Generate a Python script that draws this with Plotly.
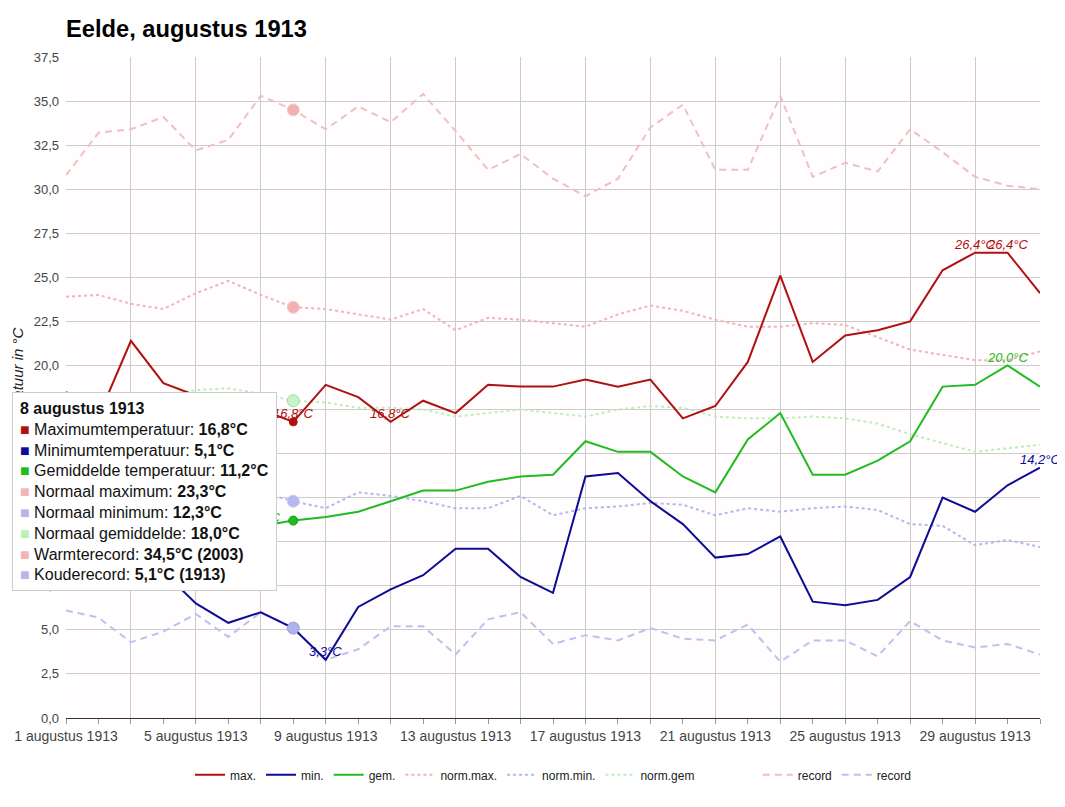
import plotly.graph_objects as go

# ---- data (Eelde, augustus 1913) ----
days = list(range(1, 32))
t_max = [18.5, 17.1, 21.4, 19.0, 18.3, 17.9, 17.5, 16.8, 18.9, 18.2, 16.8, 18.0, 17.3, 18.9, 18.8, 18.8,
         19.2, 18.8, 19.2, 17.0, 17.7, 20.2, 25.1, 20.2, 21.7, 22.0, 22.5, 25.4, 26.4, 26.4, 24.1]
t_min = [10.5, 11.6, 9.9, 8.3, 6.5, 5.4, 6.0, 5.1, 3.3, 6.3, 7.3, 8.1, 9.6, 9.6, 8.0, 7.1,
         13.7, 13.9, 12.3, 11.0, 9.1, 9.3, 10.3, 6.6, 6.4, 6.7, 8.0, 12.5, 11.7, 13.2, 14.2]
t_gem = [14.3, 14.0, 15.6, 13.7, 12.4, 11.4, 10.9, 11.2, 11.4, 11.7, 12.3, 12.9, 12.9, 13.4, 13.7, 13.8,
         15.7, 15.1, 15.1, 13.7, 12.8, 15.8, 17.3, 13.8, 13.8, 14.6, 15.7, 18.8, 18.9, 20.0, 18.8]
norm_max = [23.9, 24.0, 23.5, 23.2, 24.1, 24.8, 24.0, 23.3, 23.2, 22.9, 22.6, 23.2, 22.0, 22.7, 22.6, 22.4,
            22.2, 22.9, 23.4, 23.1, 22.6, 22.2, 22.2, 22.4, 22.3, 21.6, 20.9, 20.6, 20.3, 20.3, 20.8]
norm_min = [12.9, 13.0, 12.6, 12.7, 12.4, 12.5, 12.8, 12.3, 11.9, 12.8, 12.6, 12.3, 11.9, 11.9, 12.6, 11.5,
            11.9, 12.0, 12.2, 12.1, 11.5, 11.9, 11.7, 11.9, 12.0, 11.8, 11.0, 10.9, 9.8, 10.1, 9.7]
norm_gem = [18.3, 18.4, 18.2, 18.3, 18.6, 18.7, 18.4, 18.0, 17.9, 17.6, 17.6, 17.5, 17.1, 17.3, 17.5, 17.3,
            17.1, 17.5, 17.7, 17.6, 17.1, 17.0, 17.0, 17.1, 17.0, 16.7, 16.1, 15.6, 15.1, 15.3, 15.5]
rec_max = [30.8, 33.2, 33.4, 34.1, 32.2, 32.8, 35.3, 34.5, 33.4, 34.7, 33.8, 35.4, 33.3, 31.1, 32.0, 30.6,
           29.6, 30.6, 33.5, 34.8, 31.1, 31.1, 35.3, 30.7, 31.5, 31.0, 33.4, 32.1, 30.7, 30.2, 30.0]
rec_min = [6.1, 5.7, 4.3, 4.9, 5.9, 4.6, 6.0, 5.1, 3.3, 3.9, 5.2, 5.2, 3.6, 5.6, 6.0, 4.2,
           4.7, 4.4, 5.1, 4.5, 4.4, 5.3, 3.2, 4.4, 4.4, 3.5, 5.5, 4.4, 4.0, 4.2, 3.6]
tick_labels = [f"{d} augustus 1913" for d in days]

HOVER_DAY = 8
REC_MAX_YEAR = "2003"
REC_MIN_YEAR = "1913"

C_MAX, C_MIN, C_GEM = "#b01010", "#0c0c96", "#22bb22"
C_NMAX, C_NMIN, C_NGEM = "#f2b4b4", "#b6b6ee", "#bdeebd"
C_RMAX, C_RMIN = "#f0c0c0", "#c0c0ee"
FONT = "Arial, 'Liberation Sans', sans-serif"

# page body has an 8px margin -> figure is shifted, compensate here
W, H = 1057, 799
ML, MT, MR, MB = 58, 49, 25, 89


def fmt(v):
    return f"{v:.1f}°C".replace(".", ",")


fig = go.Figure()

series = [
    ("max.", t_max, C_MAX, "solid", 1),
    ("min.", t_min, C_MIN, "solid", 2),
    ("gem.", t_gem, C_GEM, "solid", 3),
    ("norm.max.", norm_max, C_NMAX, "dot", 4),
    ("norm.min.", norm_min, C_NMIN, "dot", 5),
    ("norm.gem", norm_gem, C_NGEM, "dot", 6),
    ("record", rec_max, C_RMAX, "7px,5px", 8),
    ("record", rec_min, C_RMIN, "7px,5px", 9),
]
# normals/records first so the measured lines sit on top
for name, vals, col, dash, rank in series[3:] + series[:3]:
    fig.add_trace(go.Scatter(
        x=days, y=vals, name=name, mode="lines",
        line=dict(color=col, width=2, dash=dash),
        legendrank=rank, hoverinfo="skip",
    ))

# empty legend slot (gap before the record entries)
fig.add_trace(go.Scatter(
    x=[None], y=[None], mode="lines", name="\u00a0" * 4, legendrank=7,
    line=dict(color="rgba(0,0,0,0)", width=2), hoverinfo="skip",
))

# hover markers on the selected day
i = HOVER_DAY - 1
for vals, col, size, lc in [
    (rec_max, "#f2b0b0", 12, "#f6caca"),
    (norm_max, "#f2b0b0", 12, "#f6caca"),
    (norm_gem, "#c8f2c8", 12, "#a8dca8"),
    (norm_min, "#b8b8f0", 12, "#cacaf4"),
    (rec_min, "#b0b2ea", 12, "#9a9cd8"),
    (t_max, C_MAX, 8, C_MAX),
    (t_gem, C_GEM, 9, "#139913"),
]:
    fig.add_trace(go.Scatter(
        x=[days[i]], y=[vals[i]], mode="markers", showlegend=False, hoverinfo="skip",
        marker=dict(color=col, size=size, line=dict(color=lc, width=1)),
    ))

# min / max labels
annotations = []
for vals, col in [(t_max, C_MAX), (t_min, C_MIN), (t_gem, C_GEM)]:
    for target in (max(vals), min(vals)):
        for d, v in zip(days, vals):
            if v == target:
                annotations.append(dict(
                    x=d, y=v, xref="x", yref="y", text=fmt(v), showarrow=False,
                    yshift=8, font=dict(family=FONT, size=13, color=col, style="italic"),
                ))

# y axis title
annotations.append(dict(
    x=-0.0498, y=0.5, xref="paper", yref="paper", xanchor="center", yanchor="middle",
    text="Temperatuur in °C", textangle=-90, showarrow=False,
    font=dict(family=FONT, size=15, color="#222", style="italic"),
))

# tooltip for the selected day
rows = [
    (C_MAX, "Maximumtemperatuur", fmt(t_max[i])),
    (C_MIN, "Minimumtemperatuur", fmt(t_min[i])),
    (C_GEM, "Gemiddelde temperatuur", fmt(t_gem[i])),
    (C_NMAX, "Normaal maximum", fmt(norm_max[i])),
    (C_NMIN, "Normaal minimum", fmt(norm_min[i])),
    ("#b8f0b8", "Normaal gemiddelde", fmt(norm_gem[i])),
    (C_NMAX, "Warmterecord", f"{fmt(rec_max[i])} ({REC_MAX_YEAR})"),
    (C_NMIN, "Kouderecord", f"{fmt(rec_min[i])} ({REC_MIN_YEAR})"),
]
tip = f"<b>{days[i]} augustus 1913</b>"
for col, label, val in rows:
    tip += f"<br><span style='color:{col}'>■</span> {label}: <b>{val}</b>"
annotations.append(dict(
    x=-0.0554, y=0.493, xref="paper", yref="paper", xanchor="left", yanchor="top",
    text=tip, align="left", showarrow=False,
    bgcolor="white", bordercolor="#cccccc", borderwidth=1, borderpad=7,
    font=dict(family=FONT, size=16, color="#111"),
))

fig.update_layout(
    width=W, height=H,
    margin=dict(l=ML, r=MR, t=MT, b=MB),
    paper_bgcolor="white",
    plot_bgcolor="#fffdfd",
    separators=",.",
    font=dict(family=FONT, size=13, color="#444"),
    title=dict(
        text="<b>Eelde, augustus 1913</b>",
        x=ML / W, xanchor="left", y=1 - 21 / H, yanchor="middle",
        font=dict(family=FONT, size=23.7, color="#000"),
    ),
    xaxis=dict(
        range=[1, 31], tickmode="array", tickvals=days,
        ticktext=[t if (d - 1) % 4 == 0 else "" for d, t in zip(days, tick_labels)],
        ticks="outside", ticklen=5, tickcolor="#999", showgrid=False,
        showline=True, linecolor="#333", linewidth=1, zeroline=False,
        tickfont=dict(size=14, color="#444"), automargin=False,
        minor=dict(tick0=1, dtick=2, showgrid=True, gridcolor="#cccccc", gridwidth=1, ticks=""),
    ),
    yaxis=dict(
        range=[0, 37.5], dtick=2.5, tick0=0, tickformat=".1f",
        gridcolor="#cccccc", gridwidth=1, zeroline=False, showline=False,
        tickfont=dict(size=13, color="#444"), ticks="", ticklabelstandoff=6,
        automargin=False,
    ),
    legend=dict(
        orientation="h", x=0.5, xanchor="center", y=-0.086, yanchor="middle",
        font=dict(family=FONT, size=12, color="#222"), itemwidth=30,
        traceorder="normal",
    ),
    annotations=annotations,
    showlegend=True,
)

fig.write_html("out.html")
